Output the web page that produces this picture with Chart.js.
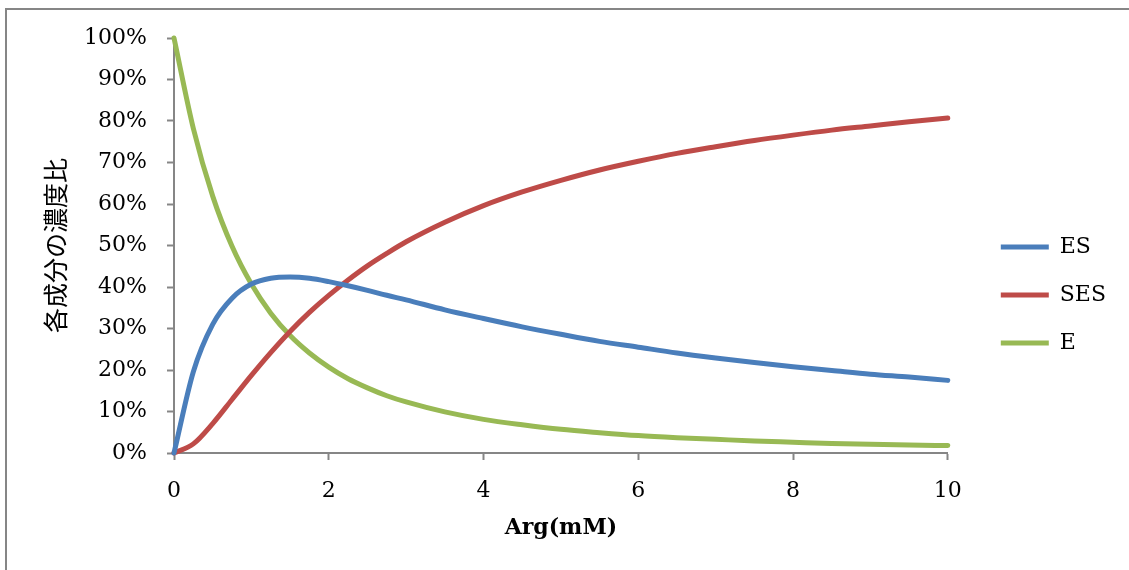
<!DOCTYPE html>
<html>
<head>
<meta charset="utf-8">
<script src="https://cdn.jsdelivr.net/npm/chart.js@4"></script>
<style>
  html, body { margin: 0; padding: 0; background: #fff; }
  canvas { display: block; }
</style>
</head>
<body>
<canvas id="ratioChart" width="1129" height="570"></canvas>
<script>
// Arg concentration (mM) and fraction of each species (%)
const argConc = [0, 0.25, 0.5, 0.75, 1, 1.25, 1.5, 1.75, 2, 2.25, 2.5, 2.75, 3, 3.5, 4, 4.5, 5, 5.5, 6, 6.5, 7, 7.5, 8, 8.5, 9, 9.5, 10];
const esValues = [0, 19.6, 31.0, 37.3, 40.7, 42.1, 42.4, 42.1, 41.3, 40.3, 39.2, 38.0, 36.9, 34.5, 32.4, 30.4, 28.6, 26.9, 25.5, 24.1, 22.9, 21.8, 20.8, 19.9, 19.0, 18.3, 17.5];
const sesValues = [0, 2.2, 7.1, 12.9, 18.7, 24.2, 29.3, 33.9, 38.0, 41.7, 45.1, 48.1, 50.9, 55.6, 59.6, 62.9, 65.7, 68.2, 70.3, 72.2, 73.8, 75.3, 76.6, 77.8, 78.8, 79.8, 80.7];
const eValues = [100, 78.2, 61.9, 49.8, 40.7, 33.7, 28.3, 24.1, 20.7, 17.9, 15.7, 13.8, 12.3, 9.9, 8.1, 6.8, 5.7, 4.9, 4.2, 3.7, 3.3, 2.9, 2.6, 2.3, 2.1, 1.9, 1.8];

const xTicks = [0, 2, 4, 6, 8, 10];
const yTicks = [0, 10, 20, 30, 40, 50, 60, 70, 80, 90, 100];

const axisGray = '#868686';

function toPoints(ys) {
    return argConc.map((x, i) => ({ x: x, y: ys[i] }));
}

function lineSet(label, ys, color) {
    return {
        label: label,
        data: toPoints(ys),
        borderColor: color,
        backgroundColor: color,
        borderWidth: 5,
        borderCapStyle: 'round',
        borderJoinStyle: 'round',
        pointRadius: 0,
        pointHoverRadius: 0,
        cubicInterpolationMode: 'monotone',
        clip: false
    };
}

// white page with the frame lines along the top and left edges
const frame = {
    id: 'frame',
    beforeDraw(chart) {
        const ctx = chart.ctx;
        ctx.save();
        ctx.fillStyle = '#fff';
        ctx.fillRect(0, 0, chart.width, chart.height);
        ctx.strokeStyle = axisGray;
        ctx.lineWidth = 2;
        ctx.beginPath();
        ctx.moveTo(6, chart.height);
        ctx.lineTo(6, 9);
        ctx.lineTo(chart.width, 9);
        ctx.stroke();
        ctx.restore();
    }
};

Chart.defaults.font.family = "'DejaVu Serif', serif";
Chart.defaults.font.size = 22;
Chart.defaults.color = '#000';

new Chart(document.getElementById('ratioChart'), {
    type: 'line',
    data: {
        datasets: [
            lineSet('ES', esValues, '#4A7EBB'),
            lineSet('SES', sesValues, '#BE4B48'),
            lineSet('E', eValues, '#98B954')
        ]
    },
    options: {
        responsive: false,
        animation: false,
        events: [],
        layout: { padding: { top: 38, left: 0, right: 13, bottom: 18 } },
        plugins: {
            tooltip: { enabled: false },
            legend: {
                position: 'right',
                labels: {
                    usePointStyle: true,
                    pointStyle: 'line',
                    pointStyleWidth: 48,
                    padding: 26,
                    color: '#000',
                    font: { size: 22 }
                }
            }
        },
        scales: {
            x: {
                type: 'linear',
                min: 0,
                max: 10,
                afterBuildTicks(s) { s.ticks = xTicks.map(v => ({ value: v })); },
                afterFit(s) { s.height = 99; },
                grid: { display: true, drawOnChartArea: false, drawTicks: true, tickLength: 7, tickWidth: 2, color: axisGray },
                border: { display: true, color: axisGray, width: 2 },
                ticks: { padding: 18, maxRotation: 0 },
                title: {
                    display: true,
                    text: 'Arg(mM)',
                    font: { size: 22, weight: 'bold' },
                    padding: { top: 0, bottom: 11 }
                }
            },
            y: {
                type: 'linear',
                min: 0,
                max: 100,
                afterBuildTicks(s) { s.ticks = yTicks.map(v => ({ value: v })); },
                afterFit(s) { s.width = 174; },
                grid: { display: true, drawOnChartArea: false, drawTicks: true, tickLength: 7, tickWidth: 2, color: axisGray },
                border: { display: true, color: axisGray, width: 2 },
                ticks: { padding: 20, callback: v => v + '%' },
                title: {
                    display: true,
                    text: '各成分の濃度比',
                    font: { family: "'Noto Sans CJK JP', sans-serif", size: 25 },
                    padding: { top: 40, bottom: 0 }
                }
            },
            // empty right-hand axis keeps the gap between plot and legend
            gap: {
                type: 'linear',
                axis: 'y',
                position: 'right',
                display: true,
                grid: { display: false },
                border: { display: false },
                ticks: { display: false },
                afterFit(s) { s.width = 27; }
            }
        }
    },
    plugins: [frame]
});
</script>
</body>
</html>
